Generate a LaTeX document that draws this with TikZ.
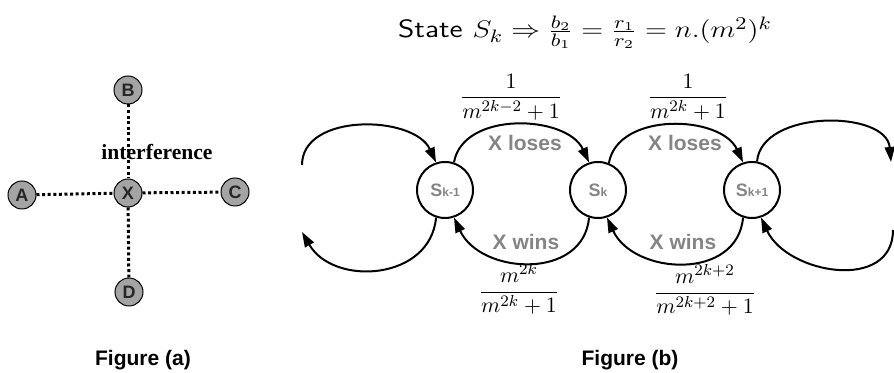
\documentclass[tikz,border=0pt]{standalone}
\usepackage{amsmath, amssymb}
\usepackage{fontspec}
\newfontfamily\arialfont{Liberation Sans}
\newfontfamily\timesfont{Liberation Serif}
\usepackage{tikz}
\usetikzlibrary{arrows.meta, positioning}
\definecolor{peergray}{HTML}{A4A4A4}
\definecolor{labelgray}{HTML}{858585}

\begin{document}
\begin{tikzpicture}[x=0.5pt, y=0.5pt, >={Triangle[length=7.5pt,width=5pt]},
  peer/.style={circle, draw, line width=0.5pt, fill=peergray, inner sep=0pt, minimum size=14pt, text=black!85, font=\arialfont\bfseries\fontsize{9}{9}\selectfont},
  link/.style={line width=1.5pt, dash pattern=on 1.5pt off 1.3pt},
  stnode/.style={circle, draw, line width=1pt, inner sep=0pt, minimum size=28pt, text=labelgray, font=\arialfont\bfseries\fontsize{9}{9}\selectfont},
  trans/.style={line width=1pt, looseness=1},
  back/.style={trans, looseness=1.2},
  move/.style={text=labelgray, font=\arialfont\bfseries\fontsize{10.5}{10.5}\selectfont},
  caption/.style={font=\arialfont\bfseries\fontsize{10.5}{10.5}\selectfont},
  prob/.style={font=\fontsize{11}{13}\selectfont}]
   \useasboundingbox (0,0) rectangle (894,373);

   \node[peer] (X) at (128,180) {X};
   \node[peer] (A) at (22,178)  {A};
   \node[peer] (B) at (128,283) {B};
   \node[peer] (C) at (235,181) {C};
   \node[peer] (D) at (129,81)  {D};
   \draw[link] (A) -- (X);
   \draw[link] (X) -- (C);
   \draw[link] (B) -- (X);
   \draw[link] (X) -- (D);
   \node[font=\timesfont\bfseries\fontsize{10.8}{10.8}\selectfont] (intf) at (157,221) {interference};
   \node[caption] (capa) at (143,13) {Figure (a)};

   \node[anchor=base, xscale=1.2, font=\fontsize{12.5}{14}\selectfont] (title) at (585,335) {\sffamily State $S_k \Rightarrow \frac{b_2}{b_1} = \frac{r_1}{r_2} = n.(m^2)^k$};

   \node[stnode] (sa) at (445,183) {S{\fontsize{6}{6}\selectfont k-1}};
   \node[stnode] (sb) at (598,183) {S{\fontsize{6}{6}\selectfont k}};
   \node[stnode] (sc) at (752,183) {S{\fontsize{6}{6}\selectfont k+1}};
   \coordinate (lt) at (302,208);
   \coordinate (lb) at (302,141);
   \coordinate (rt) at (891,211);
   \coordinate (rb) at (893,143);

   \path[->, trans]
    (lt)      edge[out=90, in=115]  (sa.108)
    (sa.72)   edge[out=80, in=115]  (sb.108)
    (sb.68)   edge[out=80, in=115]  (sc.108)
    (sc.80)   edge[out=85, in=95]   (rt);
   \path[->, back]
    (sa.252)  edge[out=265, in=-60] (lb)
    (sb.252)  edge[out=265, in=-65] (sa.288)
    (sc.252)  edge[out=265, in=-65] (sb.288)
    (rb)      edge[out=270, in=-65] (sc.288);

   \node[move] (losea) at (525,230) {X loses};
   \node[move] (loseb) at (685,230) {X loses};
   \node[move] (wina)  at (526,131) {X wins};
   \node[move] (winb)  at (683,131) {X wins};

   \node[prob] (pa) at (511,276) {$\displaystyle\frac{1}{m^{2k-2}+1}$};
   \node[prob] (pb) at (688,276) {$\displaystyle\frac{1}{m^{2k}+1}$};
   \node[prob] (qa) at (519,84)  {$\displaystyle\frac{m^{2k}}{m^{2k}+1}$};
   \node[prob] (qb) at (705,83)  {$\displaystyle\frac{m^{2k+2}}{m^{2k+2}+1}$};

   \node[caption] (capb) at (630,13) {Figure (b)};
\end{tikzpicture}
\end{document}
